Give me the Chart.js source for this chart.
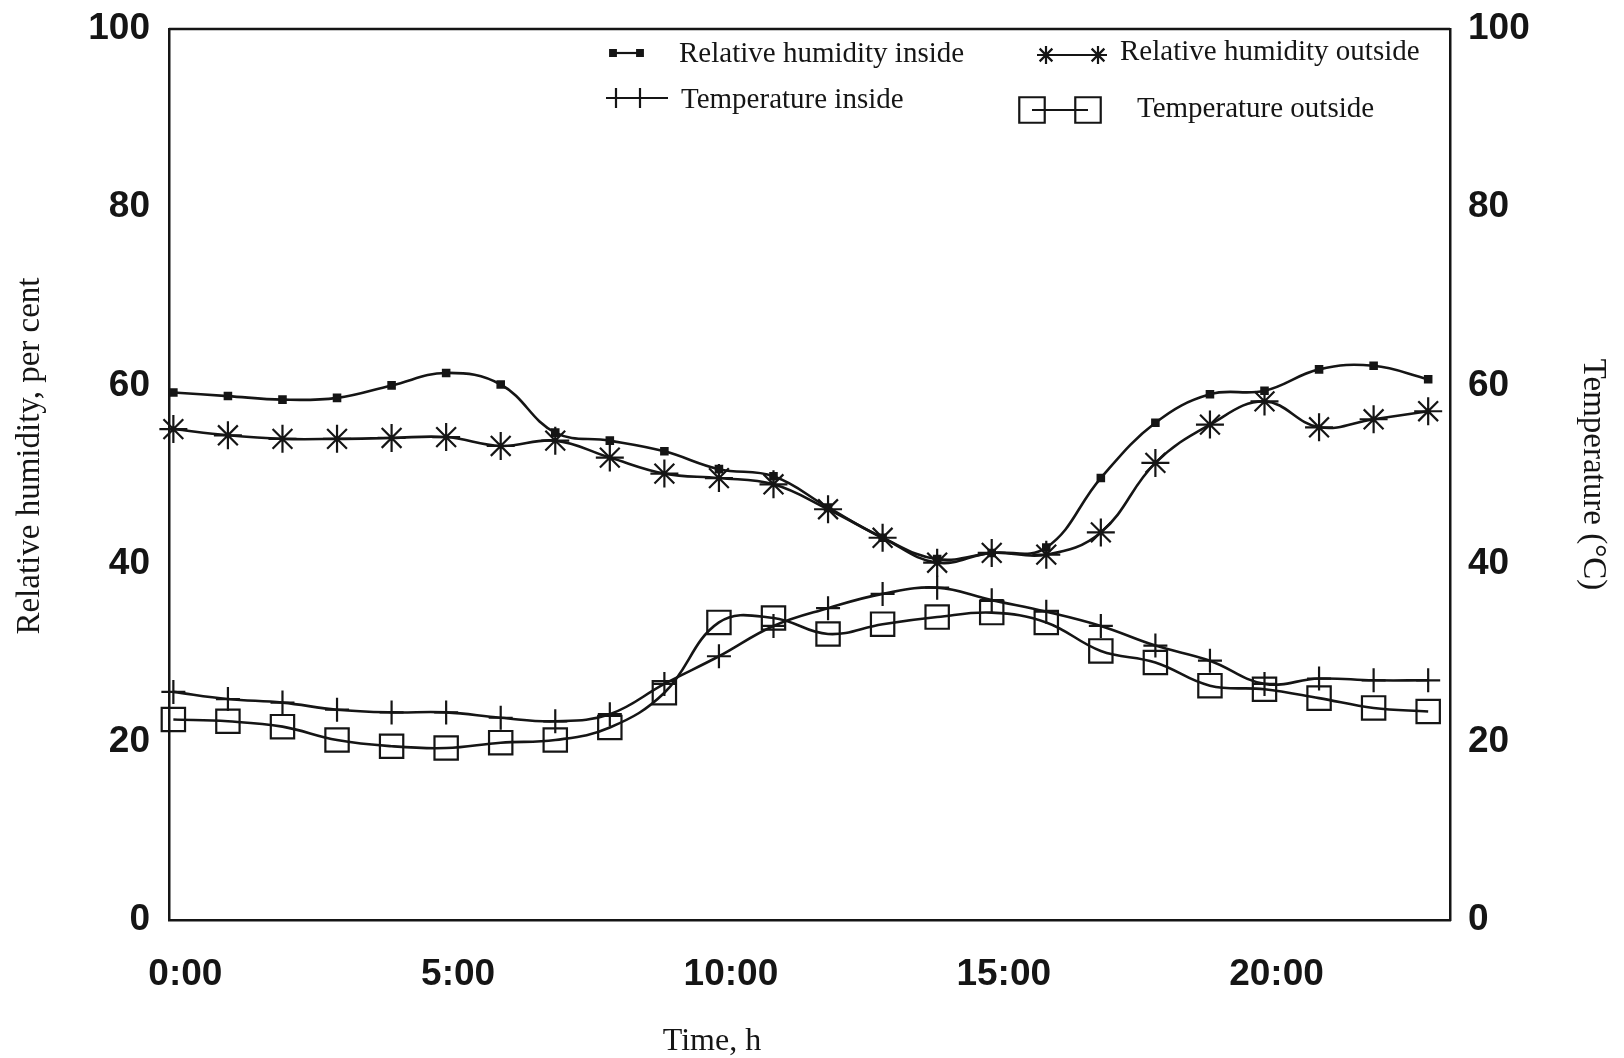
<!DOCTYPE html>
<html>
<head>
<meta charset="utf-8">
<script src="https://cdn.jsdelivr.net/npm/chart.js@4"></script>
<style>
  body { margin: 0; background: #fff; }
  #wrap { width: 1624px; height: 1058px; }
</style>
</head>
<body>
<div id="wrap"><canvas id="climateChart" width="1624" height="1058"></canvas></div>
<script>
// hours of the day
const hours = [0, 1, 2, 3, 4, 5, 6, 7, 8, 9, 10, 11, 12, 13, 14, 15, 16, 17, 18, 19, 20, 21, 22, 23];

// relative humidity, per cent (left axis)
const rhInside  = [59.2, 58.8, 58.4, 58.6, 60.0, 61.4, 60.1, 54.7, 53.8, 52.6, 50.6, 49.8, 46.3, 42.9, 40.5, 41.2, 41.8, 49.6, 55.8, 59.0, 59.4, 61.8, 62.2, 60.7];
const rhOutside = [55.1, 54.4, 54.0, 54.0, 54.1, 54.2, 53.2, 53.8, 51.9, 50.1, 49.6, 48.9, 46.1, 42.9, 40.1, 41.2, 41.0, 43.5, 51.3, 55.6, 58.2, 55.3, 56.2, 57.1];

// temperature, deg C (right axis)
const tempInside  = [25.6, 24.8, 24.4, 23.6, 23.3, 23.3, 22.7, 22.3, 23.1, 26.5, 29.6, 33.0, 35.0, 36.6, 37.3, 35.9, 34.6, 33.0, 30.8, 29.1, 26.5, 27.1, 26.9, 26.9];
const tempOutside = [22.5, 22.3, 21.7, 20.2, 19.5, 19.3, 19.9, 20.2, 21.6, 25.5, 33.4, 33.9, 32.1, 33.2, 34.0, 34.5, 33.4, 30.2, 28.9, 26.3, 25.9, 24.9, 23.8, 23.4];

// tick labels
const timeTicks = [0, 5, 10, 15, 20];
const timeLabels = ['0:00', '5:00', '10:00', '15:00', '20:00'];
const valueTicks = [0, 20, 40, 60, 80, 100];

const ink = '#151515';
const serif = '"Liberation Serif", "DejaVu Serif", serif';
const sans = '"Liberation Sans", Arial, sans-serif';

function toPoints(values) {
    return hours.map((h, i) => ({ x: h, y: values[i] }));
}

function lineSet(label, values, axis, style, radius, fill) {
    return {
        label: label,
        data: toPoints(values),
        yAxisID: axis,
        borderColor: ink,
        borderWidth: 2.6,
        tension: 0.4,
        fill: false,
        clip: false,
        pointStyle: style,
        pointRadius: radius,
        pointBorderWidth: 2.2,
        pointBorderColor: ink,
        pointBackgroundColor: fill
    };
}

// fixed box for the value axes, no extra room for half labels
function fitValueAxis(width) {
    return scale => {
        scale.width = width;
        scale.paddingTop = 0;
        scale.paddingBottom = 0;
    };
}

// legend drawn inside the plot box, two rows of two
const legendRows = [
    { text: 'Relative humidity inside',  style: 'rect',  r: 4,  fill: ink, x1: 613,  x2: 640,  y: 53,  tx: 679,  ty: 54 },
    { text: 'Relative humidity outside', style: 'star',  r: 9,  fill: ink, x1: 1046, x2: 1098, y: 55,  tx: 1120, ty: 52 },
    { text: 'Temperature inside',        style: 'cross', r: 10, fill: ink, x1: 616,  x2: 640,  y: 98,  tx: 681,  ty: 100, tail: 668 },
    { text: 'Temperature outside',       style: 'rect',  r: 18, fill: 'rgba(0,0,0,0)', x1: 1032, x2: 1088, y: 110, tx: 1137, ty: 109 }
];

const framePlugin = {
    id: 'frame',
    afterDraw(chart) {
        const ctx = chart.ctx;
        const area = chart.chartArea;
        ctx.save();
        // top edge of the box
        ctx.strokeStyle = ink;
        ctx.lineWidth = 2.5;
        ctx.beginPath();
        ctx.moveTo(area.left, area.top);
        ctx.lineTo(area.right, area.top);
        ctx.stroke();

        // legend
        legendRows.forEach(row => {
            ctx.strokeStyle = ink;
            ctx.lineWidth = 2.2;
            ctx.beginPath();
            ctx.moveTo(row.x1, row.y);
            ctx.lineTo(row.tail || row.x2, row.y);
            ctx.stroke();
            ctx.fillStyle = row.fill;
            [row.x1, row.x2].forEach(px => {
                Chart.helpers.drawPoint(ctx, { pointStyle: row.style, radius: row.r, borderWidth: 2.2 }, px, row.y);
            });
            ctx.fillStyle = ink;
            ctx.font = '29px ' + serif;
            ctx.textAlign = 'left';
            ctx.textBaseline = 'middle';
            ctx.fillText(row.text, row.tx, row.ty);
        });

        // axis titles, set off centre as in the original
        ctx.font = '32px ' + serif;
        ctx.textAlign = 'center';
        ctx.textBaseline = 'middle';
        ctx.fillText('Time, h', 712, 1042);

        ctx.translate(30, 456);
        ctx.rotate(-Math.PI / 2);
        ctx.font = '33px ' + serif;
        ctx.fillText('Relative humidity, per cent', 0, 0);
        ctx.restore();
    }
};

const ctxClimate = document.getElementById('climateChart').getContext('2d');

new Chart(ctxClimate, {
    type: 'line',
    data: {
        datasets: [
            lineSet('Relative humidity inside', rhInside, 'y', 'rect', 4.5, ink),
            lineSet('Relative humidity outside', rhOutside, 'y', 'star', 14, ink),
            lineSet('Temperature inside', tempInside, 'y1', 'cross', 12, ink),
            lineSet('Temperature outside', tempOutside, 'y1', 'rect', 16.5, 'rgba(0,0,0,0)')
        ]
    },
    options: {
        responsive: false,
        animation: false,
        layout: { padding: { top: 29, left: 0, right: 0, bottom: 0 } },
        plugins: {
            legend: { display: false },
            tooltip: { enabled: false }
        },
        scales: {
            x: {
                type: 'linear',
                min: -0.08,
                max: 23.4,
                grid: { display: false, drawTicks: false },
                border: { color: ink, width: 2.5 },
                afterBuildTicks: scale => { scale.ticks = timeTicks.map(v => ({ value: v })); },
                afterFit: scale => {
                    scale.height = 138;
                    scale.paddingLeft = 0;
                    scale.paddingRight = 0;
                },
                ticks: {
                    autoSkip: false,
                    maxRotation: 0,
                    padding: 33,
                    labelOffset: 12,
                    color: ink,
                    font: { family: sans, size: 37, weight: 'bold' },
                    callback: value => timeLabels[timeTicks.indexOf(value)]
                }
            },
            y: {
                position: 'left',
                min: 0,
                max: 100,
                grid: { display: false, drawTicks: false },
                border: { color: ink, width: 2.5 },
                afterBuildTicks: scale => { scale.ticks = valueTicks.map(v => ({ value: v })); },
                afterFit: fitValueAxis(169),
                ticks: {
                    padding: 19,
                    color: ink,
                    font: { family: sans, size: 37, weight: 'bold' }
                }
            },
            y1: {
                position: 'right',
                min: 0,
                max: 100,
                grid: { display: false, drawTicks: false },
                border: { color: ink, width: 2.5 },
                afterBuildTicks: scale => { scale.ticks = valueTicks.map(v => ({ value: v })); },
                afterFit: fitValueAxis(174),
                ticks: {
                    padding: 18,
                    color: ink,
                    font: { family: sans, size: 37, weight: 'bold' }
                },
                title: {
                    display: true,
                    text: 'Temperature (°C)',
                    color: ink,
                    padding: { top: 12 },
                    font: { family: serif, size: 33 }
                }
            }
        }
    },
    plugins: [framePlugin]
});
</script>
</body>
</html>
